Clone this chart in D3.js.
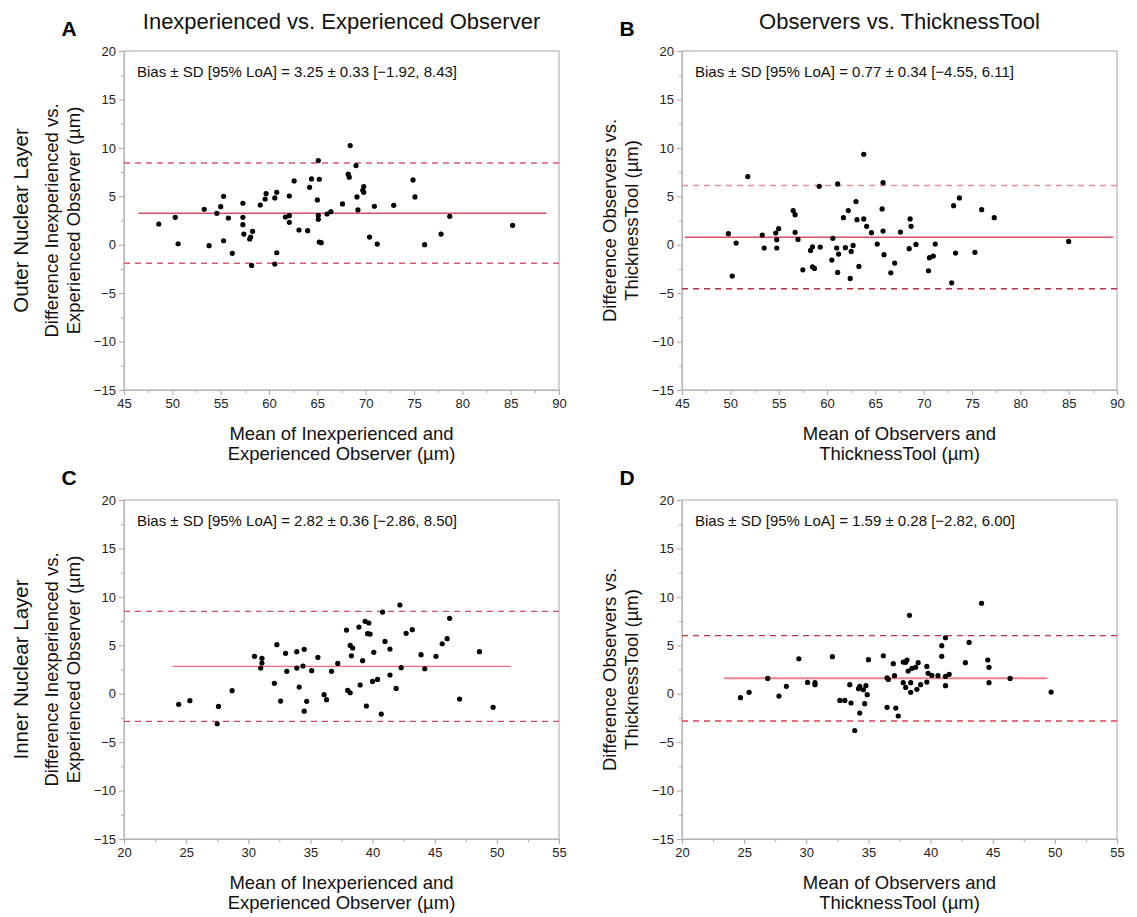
<!DOCTYPE html>
<html>
<head>
<meta charset="utf-8">
<script src="https://cdn.jsdelivr.net/npm/d3@7"></script>
<style>
  body { margin: 0; background: #fff; }
  text { font-family: "Liberation Sans", Arial, Helvetica, sans-serif; }
</style>
</head>
<body>
<svg id="chart" width="1137" height="917"></svg>
<script>
// ---- data ----
var onlTicksX = [45, 50, 55, 60, 65, 70, 75, 80, 85, 90]
var inlTicksX = [20, 25, 30, 35, 40, 45, 50, 55]
var diffTicks = [-15, -10, -5, 0, 5, 10, 15, 20]

// A: outer nuclear layer, inexperienced vs experienced
var aMean = [48.6, 50.3, 50.6, 53.3, 53.8, 54.6, 55.0, 55.3, 55.3, 55.8, 56.2, 57.3, 57.3, 57.3, 57.4, 58.0,
  58.1, 58.3, 58.2, 59.1, 59.6, 59.7, 60.6, 60.8, 60.6, 60.8, 61.7, 62.1, 62.1, 62.1, 62.6, 63.1,
  64.0, 64.2, 64.4, 65.0, 65.1, 65.2, 65.1, 65.1, 65.2, 65.4, 66.0, 66.4, 67.6, 68.2, 68.3, 68.4,
  69.0, 69.1, 69.2, 69.7, 69.8, 69.8, 70.4, 70.9, 71.2, 72.9, 74.9, 75.1, 76.1, 77.8, 78.7, 85.2]
var aDiff = [2.14, 2.83, 0.10, 3.66, -0.10, 3.24, 3.93, 5.0, 0.41, 2.76, -0.90, 2.83, 4.28, 2.07, 1.10, 0.59,
  0.79, 1.38, -2.14, 4.10, 4.72, 5.28, 4.83, 5.41, -2.0, -0.83, 2.86, 3.0, 5.03, 2.31, 6.59, 1.52,
  1.45, 5.93, 6.79, 4.62, 8.69, 6.76, 3.03, 2.62, 0.28, 0.21, 3.17, 3.41, 4.21, 7.28, 6.97, 10.24,
  8.17, 4.93, 3.59, 5.62, 6.0, 5.41, 0.79, 3.97, 0.07, 4.07, 6.69, 4.93, 0.0, 1.10, 2.93, 2.0]

// B: outer nuclear layer, observers vs ThicknessTool
var bMean = [49.8, 50.2, 50.6, 51.8, 53.3, 53.5, 54.7, 54.8, 54.8, 55.0, 56.5, 56.7, 56.7, 57.0, 57.5, 58.3,
  58.5, 58.5, 58.7, 59.2, 59.3, 60.5, 60.6, 61.0, 61.1, 61.1, 61.2, 61.7, 61.9, 62.2, 62.4, 62.5,
  62.7, 63.0, 63.1, 63.3, 63.8, 63.8, 64.1, 64.6, 65.2, 65.7, 65.8, 65.8, 65.9, 66.6, 67.0, 67.6,
  68.5, 68.6, 68.7, 69.2, 70.5, 70.6, 71.0, 71.2, 72.9, 73.1, 73.3, 73.7, 75.3, 76.0, 77.3, 85.0]
var bDiff = [1.14, -3.24, 0.17, 7.03, 1.0, -0.34, 1.21, 0.52, -0.34, 1.66, 3.52, 3.10, 1.28, 0.55, -2.59, -0.59,
  -0.21, -2.28, -2.45, 6.03, -0.24, -1.59, 0.66, -0.34, -2.86, 6.28, -0.97, 2.79, -0.31, 3.52, -3.48, -0.69,
  -0.07, 4.45, 2.59, -2.24, 9.34, 2.66, 1.90, 1.24, 0.07, 3.69, 1.41, 6.41, -1.03, -2.90, -1.90, 1.31,
  -0.41, 2.66, 1.90, 0.03, -2.69, -1.34, -1.17, 0.07, -3.93, 4.03, -0.86, 4.83, -0.79, 3.62, 2.79, 0.34]

// C: inner nuclear layer, inexperienced vs experienced
var cMean = [24.4, 25.3, 27.6, 28.7, 30.5, 31.1, 31.1, 31.0, 32.1, 32.3, 32.6, 33.0, 33.1, 33.9, 33.9, 34.1,
  34.4, 34.5, 34.7, 35.1, 35.6, 36.1, 36.3, 36.7, 37.2, 37.9, 38.0, 38.2, 38.2, 38.4, 38.3, 38.9,
  39.0, 39.2, 39.4, 39.7, 39.6, 39.8, 39.5, 40.0, 40.1, 40.4, 40.8, 41.0, 41.4, 41.4, 41.9, 42.2,
  42.3, 42.7, 43.2, 43.9, 44.2, 45.1, 45.6, 46.0, 46.2, 47.0, 48.6, 49.7, 27.5, 34.5, 40.7]
var cDiff = [-1.10, -0.72, -1.31, 0.31, 3.86, 3.65, 3.17, 2.65, 1.07, 5.06, -0.76, 4.17, 2.31, 4.34, 2.65, 0.69,
  2.86, 4.58, -0.79, 2.38, 3.75, -0.10, -0.62, 2.31, 3.13, 6.57, 0.34, 0.10, 4.99, 4.72, 3.92, 6.88,
  0.90, 3.41, 7.47, 7.30, 6.20, 6.16, -1.27, 1.27, 4.27, 1.48, 8.43, 5.40, 1.93, 4.61, 0.55, 9.16,
  2.69, 6.23, 6.61, 4.03, 2.58, 3.86, 5.16, 5.68, 7.78, -0.55, 4.34, -1.41, -3.1, -1.8, -2.1]

// D: inner nuclear layer, observers vs ThicknessTool
var dMean = [24.7, 25.4, 26.9, 27.8, 28.4, 29.4, 30.1, 30.7, 30.7, 32.1, 32.7, 33.1, 33.5, 33.6, 34.2, 34.3,
  34.6, 34.7, 34.8, 34.9, 35.0, 36.2, 36.5, 36.6, 36.5, 37.2, 37.0, 37.1, 37.8, 37.8, 38.0, 38.1,
  38.0, 38.2, 38.3, 38.4, 38.4, 38.5, 38.8, 39.0, 38.9, 39.2, 39.7, 39.7, 39.8, 40.1, 40.6, 40.9,
  40.9, 41.2, 41.2, 41.2, 41.5, 42.8, 43.1, 44.1, 44.6, 44.7, 44.7, 46.4, 49.7, 33.9, 34.3, 37.4]
var dDiff = [-0.41, 0.14, 1.58, -0.24, 0.76, 3.61, 1.17, 1.14, 0.93, 3.82, -0.69, -0.69, 0.93, -0.96, 0.52, 0.76,
  0.41, -1.03, 0.83, -0.10, 3.51, 3.92, 1.65, 1.48, -1.41, -1.48, 3.10, 1.86, 1.14, 3.27, 0.65, 3.48,
  3.24, 2.34, 8.09, 0.14, 1.14, 2.62, 2.72, 3.20, 0.45, 0.93, 2.82, 1.20, 2.10, 1.89, 1.86, 4.96,
  3.86, 5.78, 1.79, 0.83, 2.00, 3.20, 5.30, 9.33, 3.48, 2.72, 1.14, 1.58, 0.17, -3.8, -2.0, -2.3]

// bias, SD, lower LoA, upper LoA
var aStats = [3.25, 0.33, -1.92, 8.43]
var bStats = [0.77, 0.34, -4.55, 6.11]
var cStats = [2.82, 0.36, -2.86, 8.50]
var dStats = [1.59, 0.28, -2.82, 6.00]
// x extent of the solid bias line
var aBiasSpan = [46.5, 88.7]
var bBiasSpan = [45.3, 89.6]
var cBiasSpan = [23.9, 51.1]
var dBiasSpan = [23.4, 49.4]

var panelLetters = ['A', 'B', 'C', 'D']
var columnTitles = ['Inexperienced vs. Experienced Observer', 'Observers vs. ThicknessTool']
var rowTitles = ['Outer Nuclear Layer', 'Inner Nuclear Layer']
var yTitles = [['Difference Inexperienced vs.', 'Experienced Observer (\u00b5m)'],
               ['Difference Observers vs.', 'ThicknessTool (\u00b5m)']]
var xTitles = [['Mean of Inexperienced and', 'Experienced Observer (\u00b5m)'],
               ['Mean of Observers and', 'ThicknessTool (\u00b5m)']]

// ---- layout ----
var W = 435, H = 339
var colX = [124, 682], rowY = [51, 500]

// line colours: [upper LoA, bias, lower LoA]
var lineColors = [
  ['#d95a6a', '#d9505e', '#d95a6a'],
  ['#e48e9b', '#de4f5e', '#b8303f'],
  ['#cf4f60', '#fb6479', '#c94a5a'],
  ['#bc3040', '#f7808f', '#e5404f']
]

var svg = d3.select('#chart')

var panels = [
  {mean: aMean, diff: aDiff, stats: aStats, span: aBiasSpan, ticks: onlTicksX},
  {mean: bMean, diff: bDiff, stats: bStats, span: bBiasSpan, ticks: onlTicksX},
  {mean: cMean, diff: cDiff, stats: cStats, span: cBiasSpan, ticks: inlTicksX},
  {mean: dMean, diff: dDiff, stats: dStats, span: dBiasSpan, ticks: inlTicksX}
]

panels.forEach(function(p, i){
  var col = i % 2, row = Math.floor(i / 2)
  var g = svg.append('g').attr('transform', 'translate(' + colX[col] + ',' + rowY[row] + ')')

  var x = d3.scaleLinear().domain(d3.extent(p.ticks)).range([0, W])
  var y = d3.scaleLinear().domain(d3.extent(diffTicks)).range([H, 0])

  var minorX = d3.range(p.ticks[0] + 2.5, p.ticks[p.ticks.length - 1], 5)
  var minorY = d3.range(-12.5, 20, 5)

  // minor ticks
  g.append('g').attr('class', 'axis').attr('transform', 'translate(0,' + H + ')')
      .call(d3.axisBottom(x).tickValues(minorX).tickSize(3).tickFormat(''))
  g.append('g').attr('class', 'axis')
      .call(d3.axisLeft(y).tickValues(minorY).tickSize(3).tickFormat(''))

  // major ticks
  g.append('g').attr('class', 'axis').attr('transform', 'translate(0,' + H + ')')
      .call(d3.axisBottom(x).tickValues(p.ticks).tickSize(5).tickPadding(4).tickFormat(d3.format('d')))
  g.append('g').attr('class', 'axis')
      .call(d3.axisLeft(y).tickValues(diffTicks).tickSize(5).tickPadding(3).tickFormat(d3.format('d')))

  g.selectAll('.axis path').attr('stroke', '#b5b5b5')
  g.selectAll('.axis line').attr('stroke', '#a8a8a8')
  g.selectAll('.axis text').attr('font-size', 13).attr('fill', '#222')
      .style('font-family', '"Liberation Sans", Arial, sans-serif')

  // frame
  g.append('rect').attr('width', W).attr('height', H)
      .attr('fill', 'none').attr('stroke', '#b5b5b5').attr('stroke-width', 1.2)

  var c = lineColors[i]
  // limits of agreement
  g.append('line').attr('x1', 0).attr('x2', W)
      .attr('y1', y(p.stats[3])).attr('y2', y(p.stats[3]))
      .attr('stroke', c[0]).attr('stroke-width', 1.4).attr('stroke-dasharray', '6,5')
  g.append('line').attr('x1', 0).attr('x2', W)
      .attr('y1', y(p.stats[2])).attr('y2', y(p.stats[2]))
      .attr('stroke', c[2]).attr('stroke-width', 1.4).attr('stroke-dasharray', '6,5')
  // bias
  g.append('line').attr('x1', x(p.span[0])).attr('x2', x(p.span[1]))
      .attr('y1', y(p.stats[0])).attr('y2', y(p.stats[0]))
      .attr('stroke', c[1]).attr('stroke-width', i === 3 ? 2 : 1.4)

  // points
  g.selectAll('circle').data(p.mean).enter().append('circle')
      .attr('cx', function(d){ return x(d) })
      .attr('cy', function(d, j){ return y(p.diff[j]) })
      .attr('r', 2.6)
      .attr('fill', '#000')

  var f = d3.format('.2f')
  g.append('text').attr('x', 13).attr('y', 26)
      .attr('font-size', 15).attr('fill', '#111')
      .text('Bias \u00b1 SD [95% LoA] = ' + f(p.stats[0]) + ' \u00b1 ' + f(p.stats[1]) +
            ' [' + f(p.stats[2]) + ', ' + f(p.stats[3]) + ']')

  // y title
  yTitles[col].forEach(function(t, k){
    g.append('text')
        .attr('transform', 'translate(' + (-66 + k * 22) + ',' + (H / 2) + ') rotate(-90)')
        .attr('text-anchor', 'middle').attr('font-size', 18.5).attr('fill', '#111')
        .text(t)
  })
  // x title
  xTitles[col].forEach(function(t, k){
    g.append('text').attr('x', W / 2).attr('y', H + 50 + k * 20)
        .attr('text-anchor', 'middle').attr('font-size', 18.5).attr('fill', '#111')
        .text(t)
  })

  // panel letter
  svg.append('text').attr('x', colX[col] - 55).attr('y', rowY[row] - 15)
      .attr('text-anchor', 'middle').attr('font-size', 21).attr('font-weight', 'bold')
      .attr('fill', '#000').text(panelLetters[i])
})

columnTitles.forEach(function(t, k){
  svg.append('text').attr('x', colX[k] + W / 2).attr('y', 29)
      .attr('text-anchor', 'middle').attr('font-size', 22).attr('fill', '#111').text(t)
})

rowTitles.forEach(function(t, k){
  svg.append('text')
      .attr('transform', 'translate(28,' + (rowY[k] + H / 2) + ') rotate(-90)')
      .attr('text-anchor', 'middle').attr('font-size', 20.5).attr('fill', '#111').text(t)
})
</script>
</body>
</html>
